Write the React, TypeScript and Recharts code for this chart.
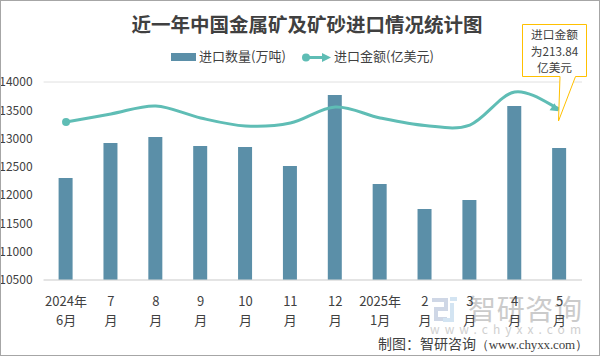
import React from 'react';
import { ComposedChart, Bar, Line, XAxis, YAxis, CartesianGrid } from 'recharts';

const months = ['2024年6月', '7月', '8月', '9月', '10月', '11月', '12月', '2025年1月', '2月', '3月', '4月', '5月'];
const tickTop = ['2024年', '7', '8', '9', '10', '11', '12', '2025年', '2', '3', '4', '5'];
const tickBottom = ['6月', '月', '月', '月', '月', '月', '月', '1月', '月', '月', '月', '月'];
const volume = [12303, 12922, 13028, 12869, 12851, 12515, 13770, 12197, 11755, 11914, 13576, 12833];
const amount = [197.9, 207.9, 218, 202.9, 192.9, 196.6, 216.7, 203, 193.5, 194.1, 235.5, 213.84];
const volumeTicks = [10500, 11000, 11500, 12000, 12500, 13000, 13500, 14000];

const data = months.map((name, i) => ({ name, volume: volume[i], amount: amount[i] }));

const FONT = '"Noto Sans CJK SC", "Noto Sans", sans-serif';
const BAR_COLOR = '#5b8fa8';
const LINE_COLOR = '#5fbdb5';
const TEXT_COLOR = '#404040';

// Excel style smoothed line (Catmull-Rom through every point)
const excelCurve = (ctx: any) => {
  let pts: [number, number][] = [];
  return {
    areaStart() {},
    areaEnd() {},
    lineStart() {
      pts = [];
    },
    point(x: number, y: number) {
      pts.push([+x, +y]);
    },
    lineEnd() {
      pts.forEach((p, i) => {
        if (i === 0) {
          ctx.moveTo(p[0], p[1]);
          return;
        }
        const p0 = pts[i - 2] || pts[i - 1];
        const p1 = pts[i - 1];
        const p3 = pts[i + 1] || p;
        ctx.bezierCurveTo(
          p1[0] + (p[0] - p0[0]) / 6,
          p1[1] + (p[1] - p0[1]) / 6,
          p[0] - (p3[0] - p1[0]) / 6,
          p[1] - (p3[1] - p1[1]) / 6,
          p[0],
          p[1],
        );
      });
    },
  };
};

const XTick = ({ x, y, index }: any) => (
  <text x={x} textAnchor="middle" fontFamily={FONT} fontSize={13} fill={TEXT_COLOR}>
    <tspan x={x} y={y + 18}>{tickTop[index]}</tspan>
    <tspan x={x} y={y + 37}>{tickBottom[index]}</tspan>
  </text>
);

const LineEnds = ({ cx, cy, index }: any) => {
  if (index === 0) return <circle key={index} cx={cx} cy={cy} r={4} fill={LINE_COLOR} />;
  if (index === months.length - 1) {
    return <polygon key={index} points={`${cx - 1},${cy + 2} ${cx - 10},${cy + 1} ${cx - 5},${cy - 6}`} fill={LINE_COLOR} />;
  }
  return <g key={index} />;
};

// sits under the chart, the axis labels are painted over it
const Watermark = () => (
  <svg width={600} height={356} style={{ position: 'absolute', left: 0, top: 0 }} fontFamily={FONT}>
    <path d="M432 300 H446 V309 H436 V319 H447" fill="none" stroke="#cfd7e6" strokeWidth={4} />
    <path d="M452 303 V320 H443" fill="none" stroke="#d3e4f2" strokeWidth={4} />
    <rect x={450} y={297} width={7} height={4} fill="#d3e4f2" />
    <text x={468} y={320} fontSize={28} fill="#cbcbcb" textLength={114}>智研咨询</text>
    <text x={430} y={334} fontSize={12} fill="#d0d0d0" textLength={151} lengthAdjust="spacing">www.chyxx.com</text>
  </svg>
);

const Overlay = () => (
  <svg width={600} height={356} style={{ position: 'absolute', left: 0, top: 0 }} fontFamily={FONT}>
    <rect x={0.5} y={0.5} width={599} height={355} fill="none" stroke="#a6a6a6" />
    <text x={307} y={32} textAnchor="middle" fontSize={19.5} fontWeight={700} fill={TEXT_COLOR}>
      近一年中国金属矿及矿砂进口情况统计图
    </text>

    <rect x={171} y={53} width={25} height={8} fill={BAR_COLOR} />
    <text x={199} y={61} fontSize={13} fill={TEXT_COLOR}>进口数量(万吨)</text>
    <line x1={303} y1={57.5} x2={328} y2={57.5} stroke={LINE_COLOR} strokeWidth={3} />
    <circle cx={306} cy={57.5} r={4} fill={LINE_COLOR} />
    <polygon points="331,57.5 322,53 322,62" fill={LINE_COLOR} />
    <text x={334} y={61} fontSize={13} fill={TEXT_COLOR}>进口金额(亿美元)</text>

    <path
      d="M522.5 24.5 H586.5 V76.5 H575.5 L558.5 121 L560 76.5 H522.5 Z"
      fill="#fff"
      stroke="#ffc000"
    />
    <g fontSize={11.7} fill={TEXT_COLOR} textAnchor="middle">
      <text x={554.5} y={39}>进口金额</text>
      <text x={554.5} y={55.5}>为213.84</text>
      <text x={554.5} y={72}>亿美元</text>
    </g>

    <text x={378} y={349} fontSize={14} fill={TEXT_COLOR}>制图：智研咨询</text>
    <text x={476} y={349} fontSize={13} fontFamily='"Liberation Serif", serif' fill={TEXT_COLOR} textLength={112}>（www.chyxx.com）</text>
  </svg>
);

export default function App() {
  document.body.style.margin = '0';
  return (
    <div style={{ position: 'relative', width: 600, height: 356, background: '#fff' }}>
      <Watermark />
      <div style={{ position: 'relative' }}>
        <ComposedChart width={600} height={356} data={data} margin={{ top: 82, right: 18, bottom: 0, left: 0.6 }}>
          <CartesianGrid vertical={false} stroke="#e0e0e0" />
          <XAxis
            dataKey="name"
            interval={0}
            height={76}
            axisLine={{ stroke: '#d9d9d9' }}
            tickLine={false}
            tick={<XTick />}
          />
          <YAxis
            yAxisId="volume"
            width={43}
            domain={[10500, 14000]}
            ticks={volumeTicks}
            axisLine={false}
            tickLine={false}
            tick={{ fontSize: 12, fontFamily: FONT, fill: TEXT_COLOR, dx: -3 }}
          />
          <YAxis yAxisId="amount" orientation="right" hide domain={[0, 248]} />
          <Bar yAxisId="volume" dataKey="volume" fill={BAR_COLOR} barSize={14} isAnimationActive={false} />
          <Line
            yAxisId="amount"
            dataKey="amount"
            type={excelCurve as any}
            stroke={LINE_COLOR}
            strokeWidth={3}
            dot={<LineEnds />}
            activeDot={false}
            isAnimationActive={false}
          />
        </ComposedChart>
      </div>
      <Overlay />
    </div>
  );
}
